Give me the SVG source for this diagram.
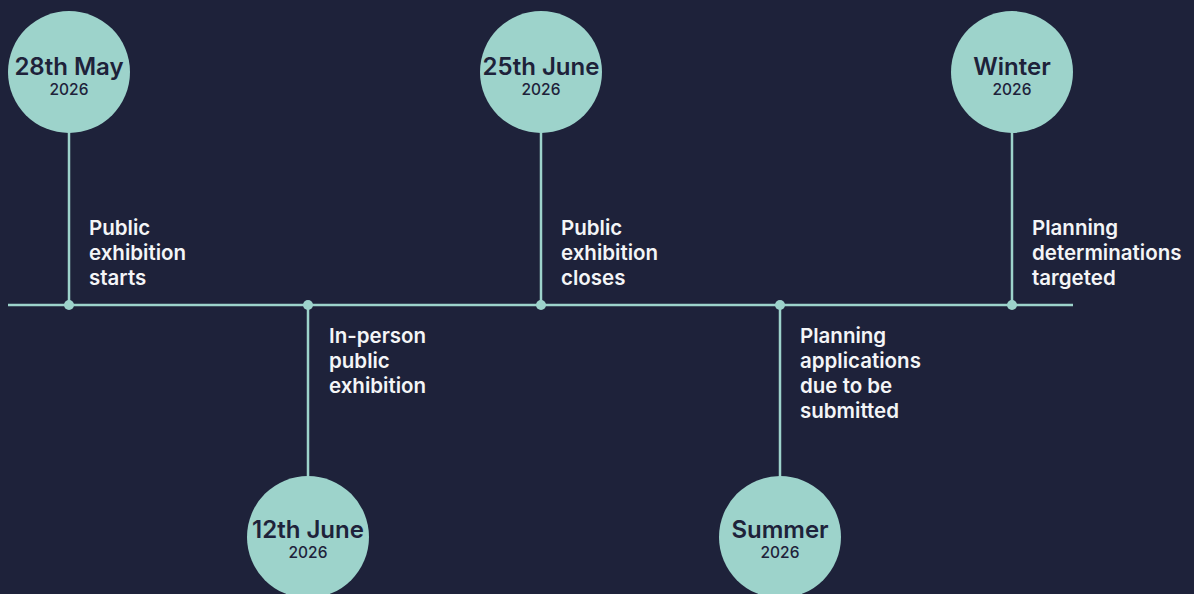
<svg xmlns="http://www.w3.org/2000/svg" width="1194" height="594" viewBox="0 0 1194 594">
<style>
.bg{fill:#1e223a}
.ln{stroke:#9dd3cb;stroke-width:2.5;fill:none}
.dot{fill:#9dd3cb}
.circ{fill:#9dd3cb}
.t{font-family:Inter,"Liberation Sans",sans-serif;font-weight:600;font-size:24px;fill:#1e223a;text-anchor:middle}
.y{font-family:Inter,"Liberation Sans",sans-serif;font-weight:500;font-size:15.5px;fill:#1e223a;text-anchor:middle}
.lab{font-family:Inter,"Liberation Sans",sans-serif;font-weight:600;font-size:20.5px;fill:#f4f5f7}
</style>
<rect class="bg" x="0" y="0" width="1194" height="594"/>
<g id="connectors">
<line class="ln" x1="8" y1="305" x2="1073" y2="305"/>
<line class="ln" x1="69" y1="120" x2="69" y2="305"/>
<line class="ln" x1="308" y1="305" x2="308" y2="490"/>
<line class="ln" x1="541" y1="120" x2="541" y2="305"/>
<line class="ln" x1="780" y1="305" x2="780" y2="490"/>
<line class="ln" x1="1012" y1="120" x2="1012" y2="305"/>
<circle class="dot" cx="69" cy="305" r="5"/>
<circle class="dot" cx="308" cy="305" r="5"/>
<circle class="dot" cx="541" cy="305" r="5"/>
<circle class="dot" cx="780" cy="305" r="5"/>
<circle class="dot" cx="1012" cy="305" r="5"/>
</g>
<g id="n1">
<circle class="circ" cx="69" cy="72" r="61"/>
<text class="t" x="69" y="75">28th May</text>
<text class="y" x="69" y="95">2026</text>
<text class="lab"><tspan x="89" y="235">Public</tspan><tspan x="89" y="260">exhibition</tspan><tspan x="89" y="285">starts</tspan></text>
</g>
<g id="n2">
<circle class="circ" cx="308" cy="537" r="61"/>
<text class="t" x="308" y="538">12th June</text>
<text class="y" x="308" y="558">2026</text>
<text class="lab"><tspan x="329" y="343">In-person</tspan><tspan x="329" y="368">public</tspan><tspan x="329" y="393">exhibition</tspan></text>
</g>
<g id="n3">
<circle class="circ" cx="541" cy="72" r="61"/>
<text class="t" x="541" y="75">25th June</text>
<text class="y" x="541" y="95">2026</text>
<text class="lab"><tspan x="561" y="235">Public</tspan><tspan x="561" y="260">exhibition</tspan><tspan x="561" y="285">closes</tspan></text>
</g>
<g id="n4">
<circle class="circ" cx="780" cy="537" r="61"/>
<text class="t" x="780" y="538">Summer</text>
<text class="y" x="780" y="558">2026</text>
<text class="lab"><tspan x="800" y="343">Planning</tspan><tspan x="800" y="368">applications</tspan><tspan x="800" y="393">due to be</tspan><tspan x="800" y="418">submitted</tspan></text>
</g>
<g id="n5">
<circle class="circ" cx="1012" cy="72" r="61"/>
<text class="t" x="1012" y="75">Winter</text>
<text class="y" x="1012" y="95">2026</text>
<text class="lab"><tspan x="1032" y="235">Planning</tspan><tspan x="1032" y="260">determinations</tspan><tspan x="1032" y="285">targeted</tspan></text>
</g>
</svg>
